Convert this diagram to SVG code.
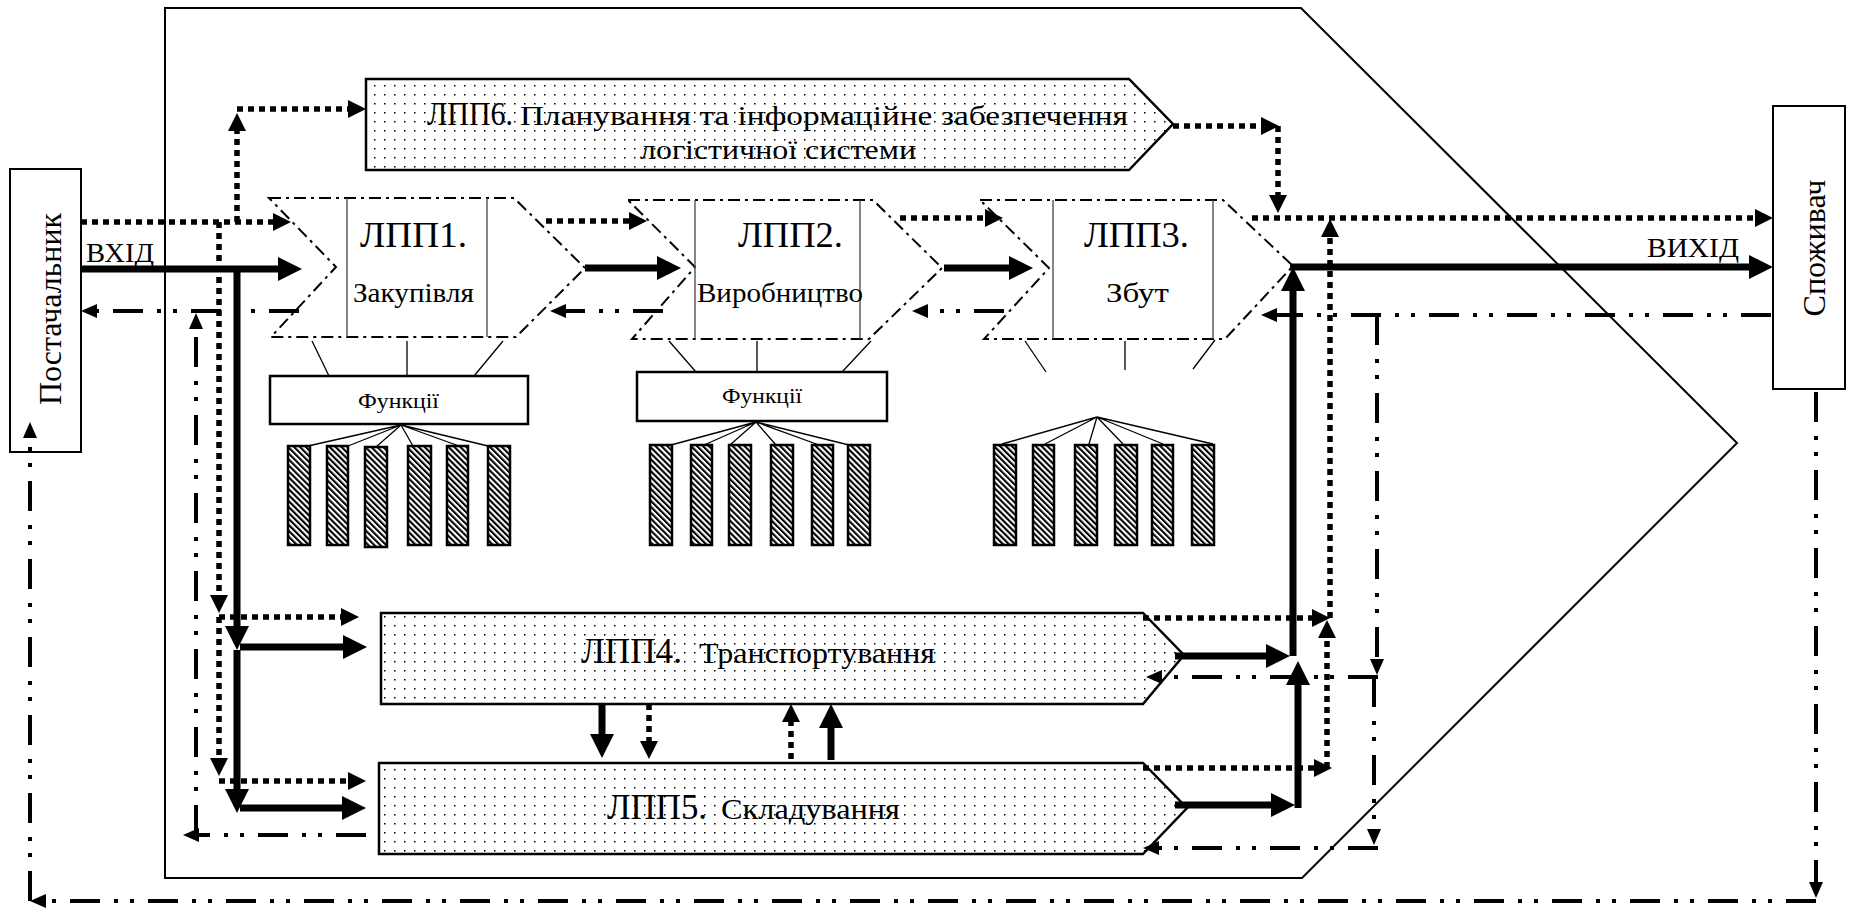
<svg xmlns="http://www.w3.org/2000/svg" width="1849" height="910" viewBox="0 0 1849 910">
<style>
text{font-family:"Liberation Serif","Times New Roman",serif;fill:#000}
.box{fill:#fff;stroke:#000;stroke-width:2}
.frame{fill:none;stroke:#000;stroke-width:2}
.proc{fill:url(#dots);stroke:#000;stroke-width:2.5}
.chev{fill:none;stroke:#000;stroke-width:2;stroke-dasharray:12 5 3 5}
.inner{stroke:#444;stroke-width:1.3}
.thin{stroke:#000;stroke-width:1.3;fill:none}
.fbox{fill:#fff;stroke:#000;stroke-width:2.5}
.bar{fill:url(#hatch);stroke:#000;stroke-width:2.5}
.s{fill:none;stroke:#000;stroke-width:7;marker-end:url(#mS)}
.d{fill:none;stroke:#000;stroke-width:5.5;stroke-dasharray:6 5;marker-end:url(#mD)}
.f{fill:none;stroke:#000;stroke-width:4;stroke-dasharray:30 14 4 12 4 14;marker-end:url(#mF)}
</style>
<defs>
<pattern id="dots" width="10" height="9" patternUnits="userSpaceOnUse">
<rect x="4" y="4" width="1.5" height="1.5" fill="#000"/>
</pattern>
<pattern id="hatch" width="4.2" height="4.2" patternUnits="userSpaceOnUse" patternTransform="rotate(-45)">
<rect width="4.2" height="4.2" fill="#fff"/>
<rect width="2.1" height="4.2" fill="#000"/>
</pattern>
<marker id="mS" markerUnits="userSpaceOnUse" markerWidth="24" markerHeight="24" refX="4" refY="12" orient="auto">
<path d="M0,0 L24,12 L0,24 Z" fill="#000"/>
</marker>
<marker id="mD" markerUnits="userSpaceOnUse" markerWidth="18" markerHeight="18" refX="3" refY="9" orient="auto">
<path d="M0,0 L18,9 L0,18 Z" fill="#000"/>
</marker>
<marker id="mF" markerUnits="userSpaceOnUse" markerWidth="16" markerHeight="14" refX="3" refY="7" orient="auto">
<path d="M0,0 L16,7 L0,14 Z" fill="#000"/>
</marker>
</defs>
<rect width="1849" height="910" fill="#fff"/>

<g id="system-frame">
<polygon class="frame" points="165,8 1301,8 1737,443 1302,878 165,878"/>
</g>

<g id="supplier">
<rect class="box" x="10" y="169" width="71" height="283"/>
<text transform="translate(61,309) rotate(-90)" text-anchor="middle" font-size="31" textLength="192" lengthAdjust="spacingAndGlyphs">Постачальник</text>
</g>

<g id="consumer">
<rect class="box" x="1773" y="106" width="72" height="283"/>
<text transform="translate(1825,248) rotate(-90)" text-anchor="middle" font-size="32" textLength="137" lengthAdjust="spacingAndGlyphs">Споживач</text>
</g>

<g id="lpp6">
<polygon class="proc" points="366,79 1129,79 1173,124 1129,170 366,170"/>
<text x="427" y="125" font-size="34" textLength="86" lengthAdjust="spacingAndGlyphs">ЛПП6.</text>
<text x="520" y="125" font-size="27" textLength="608" lengthAdjust="spacingAndGlyphs">Планування та інформаційне забезпечення</text>
<text x="640" y="159" font-size="27" textLength="276" lengthAdjust="spacingAndGlyphs">логістичної системи</text>
</g>

<g id="lpp1">
<polygon class="chev" points="269,198 514,198 585,268 516,337 271,337 336,267"/>
<line class="inner" x1="347" y1="198" x2="347" y2="337"/>
<line class="inner" x1="487" y1="198" x2="487" y2="337"/>
<text x="360" y="247" font-size="36" textLength="107" lengthAdjust="spacingAndGlyphs">ЛПП1.</text>
<text x="353" y="302" font-size="28" textLength="121" lengthAdjust="spacingAndGlyphs">Закупівля</text>
</g>

<g id="lpp2">
<polygon class="chev" points="628,200 873,200 942,268 869,339 632,339 695,267"/>
<line class="inner" x1="695" y1="200" x2="695" y2="339"/>
<line class="inner" x1="860" y1="200" x2="860" y2="339"/>
<text x="738" y="247" font-size="36" textLength="105" lengthAdjust="spacingAndGlyphs">ЛПП2.</text>
<text x="697" y="302" font-size="28" textLength="166" lengthAdjust="spacingAndGlyphs">Виробництво</text>
</g>

<g id="lpp3">
<polygon class="chev" points="980,200 1223,200 1293,266 1225,339 984,339 1049,268"/>
<line class="inner" x1="1053" y1="200" x2="1053" y2="339"/>
<line class="inner" x1="1213" y1="200" x2="1213" y2="339"/>
<text x="1084" y="247" font-size="36" textLength="105" lengthAdjust="spacingAndGlyphs">ЛПП3.</text>
<text x="1106" y="302" font-size="28" textLength="63" lengthAdjust="spacingAndGlyphs">Збут</text>
</g>

<g id="functions1">
<line class="thin" x1="312" y1="341" x2="329" y2="376"/>
<line class="thin" x1="407" y1="341" x2="407" y2="376"/>
<line class="thin" x1="503" y1="341" x2="474" y2="376"/>
<rect class="fbox" x="270" y="376" width="258" height="48"/>
<text x="358" y="408" font-size="21" textLength="81" lengthAdjust="spacingAndGlyphs">Функції</text>
<path class="thin" d="M401,425 L308,446 M401,425 L348,446 M401,425 L376,447 M401,425 L413,446 M401,425 L459,446 M401,425 L488,446"/>
<rect class="bar" x="288" y="446" width="22" height="99"/>
<rect class="bar" x="327" y="446" width="21" height="99"/>
<rect class="bar" x="365" y="447" width="22" height="100"/>
<rect class="bar" x="408" y="446" width="23" height="99"/>
<rect class="bar" x="447" y="446" width="21" height="99"/>
<rect class="bar" x="488" y="446" width="22" height="99"/>
</g>

<g id="functions2">
<line class="thin" x1="669" y1="341" x2="696" y2="372"/>
<line class="thin" x1="757" y1="341" x2="757" y2="372"/>
<line class="thin" x1="871" y1="341" x2="842" y2="372"/>
<rect class="fbox" x="637" y="372" width="250" height="49"/>
<text x="722" y="403" font-size="21" textLength="80" lengthAdjust="spacingAndGlyphs">Функції</text>
<path class="thin" d="M756,422 L671,445 M756,422 L704,445 M756,422 L730,445 M756,422 L776,445 M756,422 L819,445 M756,422 L849,445"/>
<rect class="bar" x="650" y="445" width="22" height="100"/>
<rect class="bar" x="691" y="445" width="21" height="100"/>
<rect class="bar" x="729" y="445" width="22" height="100"/>
<rect class="bar" x="771" y="445" width="22" height="100"/>
<rect class="bar" x="812" y="445" width="21" height="100"/>
<rect class="bar" x="848" y="445" width="22" height="100"/>
</g>

<g id="functions3">
<line class="thin" x1="1025" y1="341" x2="1046" y2="372"/>
<line class="thin" x1="1125" y1="341" x2="1125" y2="370"/>
<line class="thin" x1="1215" y1="340" x2="1193" y2="369"/>
<path class="thin" d="M1097,417 L1002,444 M1097,417 L1045,444 M1097,417 L1089,444 M1097,417 L1123,444 M1097,417 L1163,444 M1097,417 L1213,444"/>
<rect class="bar" x="994" y="445" width="22" height="100"/>
<rect class="bar" x="1033" y="445" width="21" height="100"/>
<rect class="bar" x="1075" y="445" width="22" height="100"/>
<rect class="bar" x="1115" y="445" width="22" height="100"/>
<rect class="bar" x="1152" y="445" width="21" height="100"/>
<rect class="bar" x="1192" y="445" width="22" height="100"/>
</g>

<g id="lpp4">
<polygon class="proc" points="381,613 1143,613 1184,655 1143,704 381,704"/>
<text x="581" y="663" font-size="35" textLength="101" lengthAdjust="spacingAndGlyphs">ЛПП4.</text>
<text x="699" y="663" font-size="30" textLength="236" lengthAdjust="spacingAndGlyphs">Транспортування</text>
</g>

<g id="lpp5">
<polygon class="proc" points="379,763 1143,763 1187,808 1143,854 379,854"/>
<text x="607" y="819" font-size="35" textLength="100" lengthAdjust="spacingAndGlyphs">ЛПП5.</text>
<text x="721" y="819" font-size="30" textLength="179" lengthAdjust="spacingAndGlyphs">Складування</text>
</g>

<g id="connectors">
<!-- material flows -->
<path class="s" d="M81,269 H282"/>
<path class="s" d="M237,269 V630"/>
<path class="s" d="M237,650 V793"/>
<path class="s" d="M240,647 H347"/>
<path class="s" d="M240,808 H346"/>
<path class="s" d="M585,268 H661"/>
<path class="s" d="M944,268 H1013"/>
<path class="s" d="M1290,267 H1753"/>
<path class="s" d="M1293,656 V287"/>
<path class="s" d="M1175,656 H1270"/>
<path class="s" d="M1175,805 H1275"/>
<path class="s" d="M1298,808 V681"/>
<path class="s" d="M602,704 V738"/>
<path class="s" d="M831,760 V724"/>
<!-- information flows -->
<path class="d" d="M81,222 H276"/>
<path class="d" d="M237,222 V128"/>
<path class="d" d="M237,109 H351"/>
<path class="d" d="M219,222 V598"/>
<path class="d" d="M219,617 H344"/>
<path class="d" d="M219,617 V761"/>
<path class="d" d="M219,781 H351"/>
<path class="d" d="M546,221 H632"/>
<path class="d" d="M900,218 H988"/>
<path class="d" d="M1173,126 H1264"/>
<path class="d" d="M1278,126 V198"/>
<path class="d" d="M1252,218 H1758"/>
<path class="d" d="M1143,618 H1315"/>
<path class="d" d="M1330,618 V234"/>
<path class="d" d="M1143,768 H1317"/>
<path class="d" d="M1327,768 V635"/>
<path class="d" d="M649,704 V744"/>
<path class="d" d="M791,759 V719"/>
<!-- feedback flows -->
<path class="f" d="M1771,315 H1274"/>
<path class="f" d="M1377,315 V662"/>
<path class="f" d="M1378,677 H1159"/>
<path class="f" d="M1374,677 V832"/>
<path class="f" d="M1378,848 H1156"/>
<path class="f" d="M1004,311 H925"/>
<path class="f" d="M663,311 H563"/>
<path class="f" d="M299,311 H94"/>
<path class="f" d="M366,835 H196"/>
<path class="f" d="M196,835 V326"/>
<path class="f" d="M1816,392 V885"/>
<path class="f" d="M1816,901 H43"/>
<path class="f" d="M30,901 V435"/>
<text x="86" y="262" font-size="27" textLength="68" lengthAdjust="spacingAndGlyphs">ВХІД</text>
<text x="1647" y="257" font-size="27" textLength="92" lengthAdjust="spacingAndGlyphs">ВИХІД</text>
</g>
</svg>
